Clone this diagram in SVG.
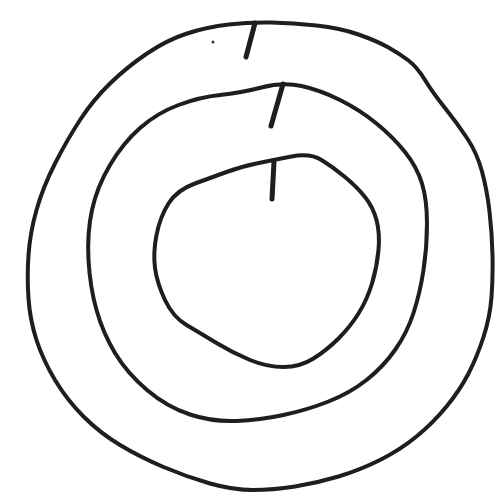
<svg xmlns="http://www.w3.org/2000/svg" width="495" height="495" viewBox="0 0 495 495">
<style>
.ring{fill:none;stroke:#1e1e1e;stroke-width:4;stroke-linejoin:round;stroke-linecap:round}
.tick{fill:none;stroke:#1e1e1e;stroke-width:5;stroke-linecap:round}
</style>
<rect width="495" height="495" fill="#fff"/>
<g id="outer-ring">
<path class="ring" d="M187,33.5 Q207,27 228.5,24.5 Q250,22 271.5,22.5 Q293,23 316.5,25.5 Q340,28 358.5,34.5 Q377,41 388.5,47.5 Q400,54 408.5,60.5 Q417,67 425,80 Q433,93 445,108 Q457,123 467,138 Q477,153 482,171.5 Q487,190 489.5,211.5 Q492,233 492.5,255 Q493,277 491.5,297 Q490,317 483.5,337 Q477,357 468.5,373.5 Q460,390 446.5,406.5 Q433,423 416.5,436.5 Q400,450 380,460 Q360,470 338.5,476.5 Q317,483 295,486.5 Q273,490 253,490 Q233,490 210,483.5 Q187,477 163.5,467 Q140,457 120,445 Q100,433 83.5,416.5 Q67,400 55,380 Q43,360 36.5,340 Q30,320 28.5,298.5 Q27,277 28.5,255 Q30,233 36.5,210 Q43,187 55,163.5 Q67,140 80,120 Q93,100 110,83.5 Q127,67 147,53.5 Q167,40 187,33.5 Z"/>
<line class="tick" x1="255" y1="23" x2="246" y2="57"/>
<circle cx="213" cy="42" r="1.5" fill="#333"/>
</g>
<g id="middle-ring">
<path class="ring" d="M261.5,87.5 Q283,82 301.5,86 Q320,90 340,100 Q360,110 376.5,123.5 Q393,137 405,152 Q417,167 422,183.5 Q427,200 427,223.5 Q427,247 423.5,270 Q420,293 413.5,313 Q407,333 395,350 Q383,367 366.5,380 Q350,393 328.5,401.5 Q307,410 283.5,415 Q260,420 236.5,421 Q213,422 190,414.5 Q167,407 147,390 Q127,373 115,353 Q103,333 96.5,310 Q90,287 88.5,260 Q87,233 92,210 Q97,187 110,165 Q123,143 140,128 Q157,113 178.5,105 Q200,97 220,95 Q240,93 261.5,87.5 Z"/>
<line class="tick" x1="283" y1="84" x2="271" y2="126"/>
</g>
<g id="inner-ring">
<path class="ring" d="M256.5,163.5 Q273,160 291.5,156.5 Q310,153 321.5,160 Q333,167 345,177 Q357,187 365,197 Q373,207 376.5,220 Q380,233 378.5,250 Q377,267 372,283.5 Q367,300 358.5,313.5 Q350,327 338.5,338.5 Q327,350 313.5,358.5 Q300,367 283.5,367 Q267,367 250,360 Q233,353 216.5,343 Q200,333 186.5,325 Q173,317 165,300 Q157,283 155,268 Q153,253 156.5,235 Q160,217 168.5,203.5 Q177,190 195,183.5 Q213,177 226.5,172 Q240,167 256.5,163.5 Z"/>
<line class="tick" x1="274" y1="162" x2="272" y2="199"/>
</g>
</svg>
